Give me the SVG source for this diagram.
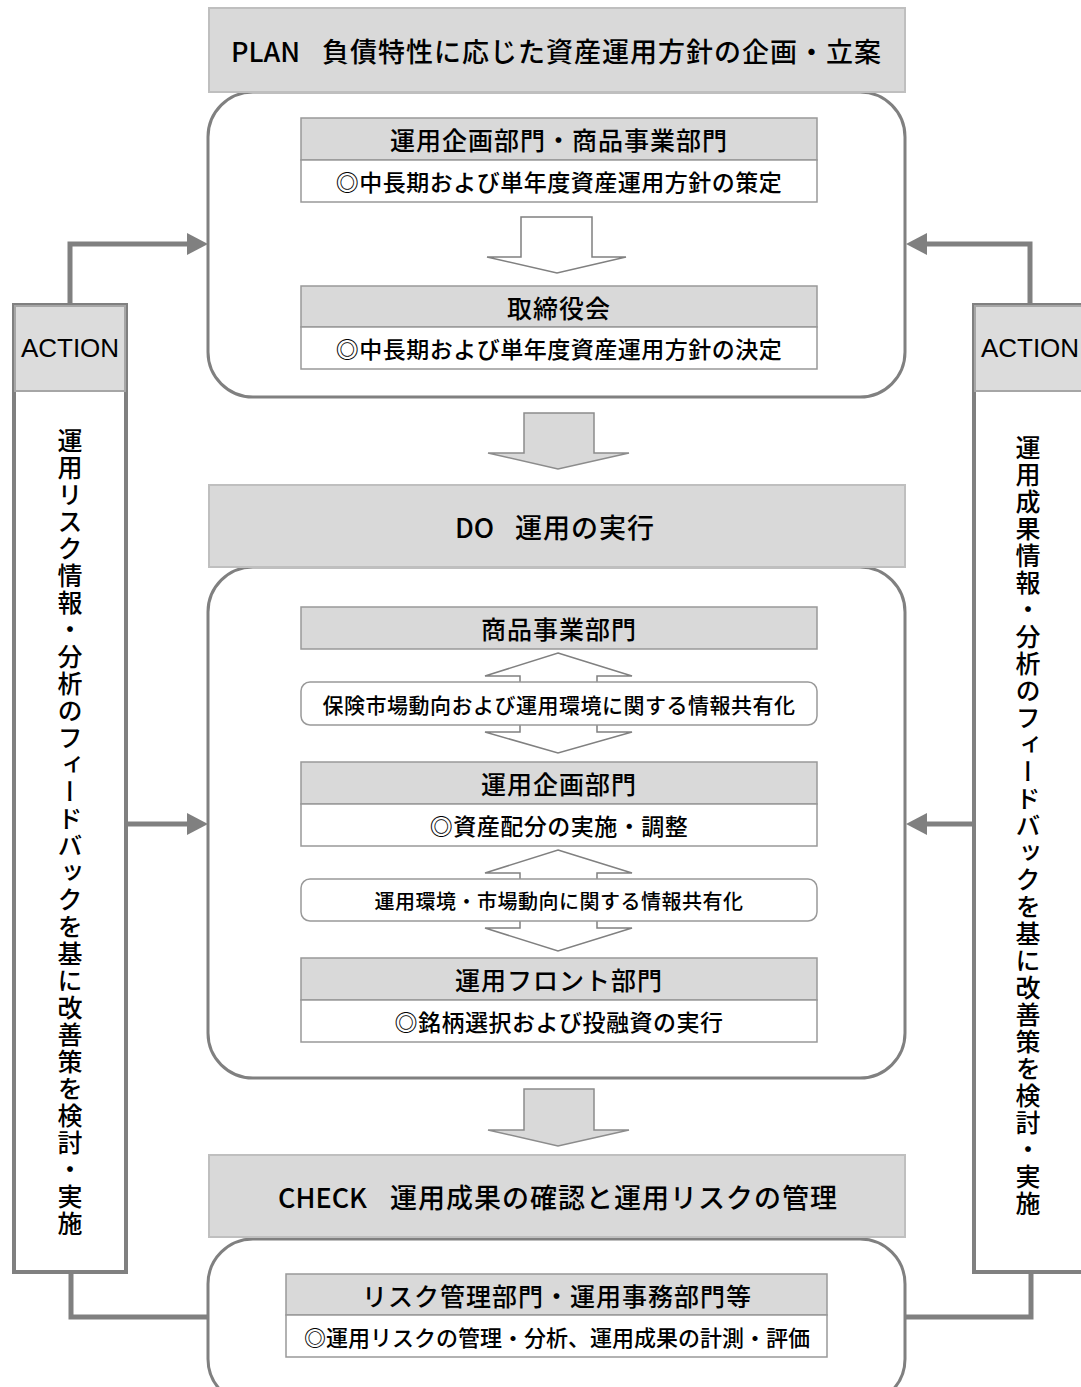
<svg xmlns="http://www.w3.org/2000/svg" width="1081" height="1387" viewBox="0 0 1081 1387">
<defs>
<style>
.jp{font-family:"Noto Sans CJK JP","Noto Sans",sans-serif;fill:#000;font-weight:500}
.lat{font-family:"Liberation Sans","Noto Sans",sans-serif;fill:#000}
.title{font-size:27px;letter-spacing:1px}
.hdr{fill:#d9d9d9;stroke:#bfbfbf;stroke-width:2}
.big{fill:#fff;stroke:#808080;stroke-width:3}
.ihdr{fill:#d9d9d9;stroke:#999;stroke-width:1.5}
.ibody{fill:#fff;stroke:#999;stroke-width:1.5}
.h24{font-size:25px;letter-spacing:1px}
.b22{font-size:23px;letter-spacing:0.5px}
.harrow{fill:#fff;stroke:#808080;stroke-width:1.5}
.garrow{fill:#d9d9d9;stroke:#8c8c8c;stroke-width:1.5}
.conn{fill:none;stroke:#808080;stroke-width:5}
.vt{font-size:25px;letter-spacing:2px;writing-mode:vertical-rl}
</style>
</defs>
<rect width="1081" height="1387" fill="#fff"/>

<g id="connectors">
<path class="conn" d="M70,305 V244 H187" />
<path d="M187,233 L208,244 L187,255 Z" fill="#808080"/>
<path class="conn" d="M1030,305 V244 H927" />
<path d="M927,233 L906,244 L927,255 Z" fill="#808080"/>
<path class="conn" d="M126,824 H187" />
<path d="M187,813 L208,824 L187,835 Z" fill="#808080"/>
<path class="conn" d="M973,824 H927" />
<path d="M927,813 L906,824 L927,835 Z" fill="#808080"/>
<path class="conn" d="M71,1272 V1317 H208" />
<path class="conn" d="M1031,1272 V1317 H905" />
<polygon class="garrow" points="524,413 594,413 594,453 629,453 558,469 488,453 524,453"/>
<polygon class="garrow" points="524,1089 594,1089 594,1130 629,1130 558,1146 488,1130 524,1130"/>
</g>

<g id="plan">
<rect class="big" x="208" y="92" width="697" height="305" rx="45"/>
<rect class="hdr" x="209" y="8" width="696" height="84"/>
<text class="jp title" y="50" dominant-baseline="central"><tspan x="231" letter-spacing="0">PLAN</tspan><tspan x="322">負債特性に応じた資産運用方針の企画・立案</tspan></text>
</g>
<g id="plan-dept1">
<rect class="ihdr" x="301" y="118" width="516" height="42"/>
<rect class="ibody" x="301" y="160" width="516" height="42"/>
<text class="jp h24" x="559" y="139" text-anchor="middle" dominant-baseline="central">運用企画部門・商品事業部門</text>
<text class="jp b22" x="559" y="181" text-anchor="middle" dominant-baseline="central">◎中長期および単年度資産運用方針の策定</text>
</g>
<polygon class="harrow" points="521,217 592,217 592,257 626,257 557,273 487,257 521,257"/>
<g id="plan-board">
<rect class="ihdr" x="301" y="286" width="516" height="41"/>
<rect class="ibody" x="301" y="327" width="516" height="42"/>
<text class="jp h24" x="559" y="306.5" text-anchor="middle" dominant-baseline="central">取締役会</text>
<text class="jp b22" x="559" y="348" text-anchor="middle" dominant-baseline="central">◎中長期および単年度資産運用方針の決定</text>
</g>

<g id="do">
<rect class="big" x="208" y="567" width="697" height="511" rx="45"/>
<rect class="hdr" x="209" y="485" width="696" height="82"/>
<text class="jp title" y="526" dominant-baseline="central"><tspan x="455" letter-spacing="0">DO</tspan><tspan x="515">運用の実行</tspan></text>
</g>
<g id="do-product">
<rect class="ihdr" x="301" y="607" width="516" height="42"/>
<text class="jp h24" x="559" y="628" text-anchor="middle" dominant-baseline="central">商品事業部門</text>
</g>
<polygon class="harrow" points="558,653 632,676 597,676 597,732 632,732 558,753 485,732 520,732 520,676 485,676"/>
<g id="do-info1">
<rect class="ibody" x="301" y="682" width="516" height="43" rx="9"/>
<text class="jp" x="559" y="703.5" text-anchor="middle" dominant-baseline="central" font-size="21" letter-spacing="0.5">保険市場動向および運用環境に関する情報共有化</text>
</g>
<g id="do-planning">
<rect class="ihdr" x="301" y="762" width="516" height="42"/>
<rect class="ibody" x="301" y="804" width="516" height="42"/>
<text class="jp h24" x="559" y="783" text-anchor="middle" dominant-baseline="central">運用企画部門</text>
<text class="jp b22" x="559" y="825" text-anchor="middle" dominant-baseline="central">◎資産配分の実施・調整</text>
</g>
<polygon class="harrow" points="558,850 632,873 597,873 597,928 632,928 558,951 485,928 520,928 520,873 485,873"/>
<g id="do-info2">
<rect class="ibody" x="301" y="879" width="516" height="42" rx="9"/>
<text class="jp" x="559" y="900" text-anchor="middle" dominant-baseline="central" font-size="20" letter-spacing="0.5">運用環境・市場動向に関する情報共有化</text>
</g>
<g id="do-front">
<rect class="ihdr" x="301" y="958" width="516" height="42"/>
<rect class="ibody" x="301" y="1000" width="516" height="42"/>
<text class="jp h24" x="559" y="979" text-anchor="middle" dominant-baseline="central">運用フロント部門</text>
<text class="jp b22" x="559" y="1021" text-anchor="middle" dominant-baseline="central">◎銘柄選択および投融資の実行</text>
</g>

<g id="check">
<rect class="big" x="208" y="1239" width="697" height="165" rx="45"/>
<rect class="hdr" x="209" y="1155" width="696" height="82"/>
<text class="jp title" y="1196" dominant-baseline="central"><tspan x="278" letter-spacing="0">CHECK</tspan><tspan x="390">運用成果の確認と運用リスクの管理</tspan></text>
</g>
<g id="check-risk">
<rect class="ihdr" x="286" y="1274" width="541" height="41"/>
<rect class="ibody" x="286" y="1315" width="541" height="42"/>
<text class="jp h24" x="557" y="1294.5" text-anchor="middle" dominant-baseline="central" letter-spacing="0">リスク管理部門・運用事務部門等</text>
<text class="jp" x="557" y="1336" text-anchor="middle" dominant-baseline="central" font-size="22" letter-spacing="0">◎運用リスクの管理・分析、運用成果の計測・評価</text>
</g>

<g id="action-left">
<rect x="14" y="305" width="112" height="967" fill="#fff" stroke="#808080" stroke-width="4"/>
<rect x="15" y="306" width="110" height="85" fill="#dcdcdc" stroke="#a6a6a6" stroke-width="2"/>
<text class="lat" x="70" y="348" text-anchor="middle" dominant-baseline="central" font-size="26">ACTION</text>
<text class="jp vt" x="70" y="428">運用リスク情報・分析のフィードバックを基に改善策を検討・実施</text>
</g>
<g id="action-right">
<rect x="974" y="305" width="115" height="967" fill="#fff" stroke="#808080" stroke-width="4"/>
<rect x="975" y="306" width="113" height="85" fill="#dcdcdc" stroke="#a6a6a6" stroke-width="2"/>
<text class="lat" x="1030" y="348" text-anchor="middle" dominant-baseline="central" font-size="26">ACTION</text>
<text class="jp vt" x="1028" y="435">運用成果情報・分析のフィードバックを基に改善策を検討・実施</text>
</g>
</svg>
